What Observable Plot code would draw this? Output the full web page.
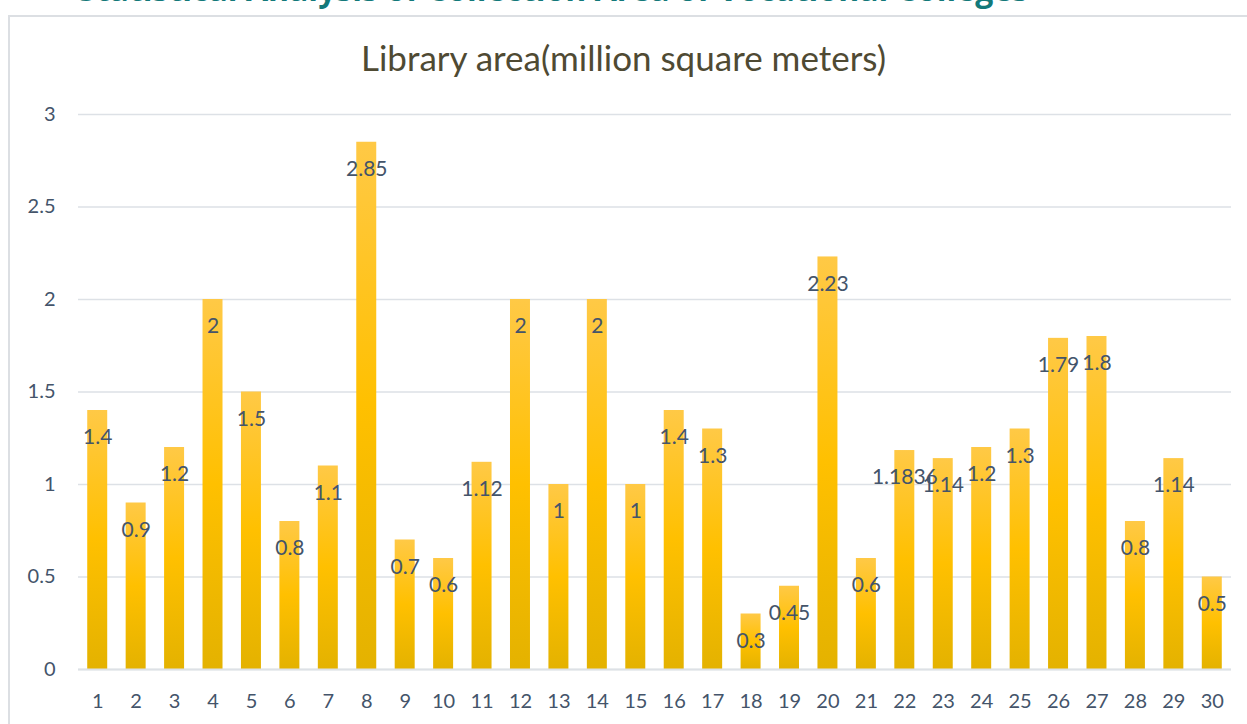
<!DOCTYPE html>
<html>
<head>
<meta charset="utf-8">
<script src="https://cdn.jsdelivr.net/npm/d3@7"></script>
<script src="https://cdn.jsdelivr.net/npm/@observablehq/plot@0.6"></script>
<style>
  html, body { margin: 0; padding: 0; background: #fff; overflow: hidden; }
  #wrap { position: relative; width: 1247px; height: 724px; font-family: Lato, "Open Sans", sans-serif; }
  #pagetitle { position: absolute; left: 78px; top: -33px; font: bold 32px "Open Sans", sans-serif; color: #13797a; white-space: nowrap; }
  #frame { position: absolute; left: 8px; top: 15px; width: 1250px; height: 720px; border-left: 2px solid #dcdfe3; border-top: 2px solid #dcdfe3; }
  #charttitle { position: absolute; left: 0; width: 1247px; top: 36px; text-align: center; font: 35px Lato, sans-serif; color: #4f4a33; }
  #chart { position: absolute; left: 0; top: 0; }
</style>
</head>
<body>
<div id="wrap">
  <div id="pagetitle">Statistical Analysis of Collection Area of Vocational Colleges</div>
  <div id="frame"></div>
  <div id="charttitle">Library area(million square meters)</div>
  <div id="chart"></div>
</div>
<script>
const categories = ["1","2","3","4","5","6","7","8","9","10","11","12","13","14","15","16","17","18","19","20","21","22","23","24","25","26","27","28","29","30"];
const values = [1.4, 0.9, 1.2, 2, 1.5, 0.8, 1.1, 2.85, 0.7, 0.6, 1.12, 2, 1, 2, 1, 1.4, 1.3, 0.3, 0.45, 2.23, 0.6, 1.1836, 1.14, 1.2, 1.3, 1.79, 1.8, 0.8, 1.14, 0.5];
const labels = ["1.4","0.9","1.2","2","1.5","0.8","1.1","2.85","0.7","0.6","1.12","2","1","2","1","1.4","1.3","0.3","0.45","2.23","0.6","1.1836","1.14","1.2","1.3","1.79","1.8","0.8","1.14","0.5"];
const yTicks = [0, 0.5, 1, 1.5, 2, 2.5, 3];
const yTickLabels = ["0", "0.5", "1", "1.5", "2", "2.5", "3"];

const data = categories.map((c, i) => ({cat: c, value: values[i], label: labels[i]}));
const textColor = "#44546a";

const plot = Plot.plot({
  width: 1247,
  height: 724,
  marginLeft: 78,
  marginRight: 16,
  marginTop: 114,
  marginBottom: 55,
  style: {fontFamily: "Lato, 'Open Sans', sans-serif", background: "transparent", overflow: "visible"},
  x: {domain: categories, paddingInner: 0.48, paddingOuter: 0.24, round: false, label: null},
  y: {domain: [0, 3], label: null},
  marks: [
    Plot.gridY(yTicks, {stroke: "#dde1e6", strokeOpacity: 1, strokeWidth: 1.5}),
    Plot.barY(data, {x: "cat", y: "value", fill: "url(#barGrad)"}),
    Plot.ruleY([0], {stroke: "#dde1e6", strokeWidth: 2}),
    Plot.text(data, {x: "cat", y: "value", text: "label", dy: 27, fill: textColor, fontSize: 21, textAnchor: "middle", lineAnchor: "middle"}),
    Plot.axisY(yTicks, {tickSize: 0, tickPadding: 23, tickFormat: (d) => yTickLabels[yTicks.indexOf(d)], fontSize: 20, color: textColor, label: null}),
    Plot.axisX({tickSize: 0, tickPadding: 24, fontSize: 20, color: textColor, label: null})
  ]
});

const svgNS = "http://www.w3.org/2000/svg";
const defs = document.createElementNS(svgNS, "defs");
const grad = document.createElementNS(svgNS, "linearGradient");
grad.setAttribute("id", "barGrad");
grad.setAttribute("x1", "0"); grad.setAttribute("y1", "0");
grad.setAttribute("x2", "0"); grad.setAttribute("y2", "1");
[["0%", "#ffc946"], ["50%", "#ffc000"], ["100%", "#e4b200"]].forEach(([o, c]) => {
  const s = document.createElementNS(svgNS, "stop");
  s.setAttribute("offset", o);
  s.setAttribute("stop-color", c);
  grad.appendChild(s);
});
defs.appendChild(grad);
plot.insertBefore(defs, plot.firstChild);

document.getElementById("chart").appendChild(plot);
</script>
</body>
</html>
